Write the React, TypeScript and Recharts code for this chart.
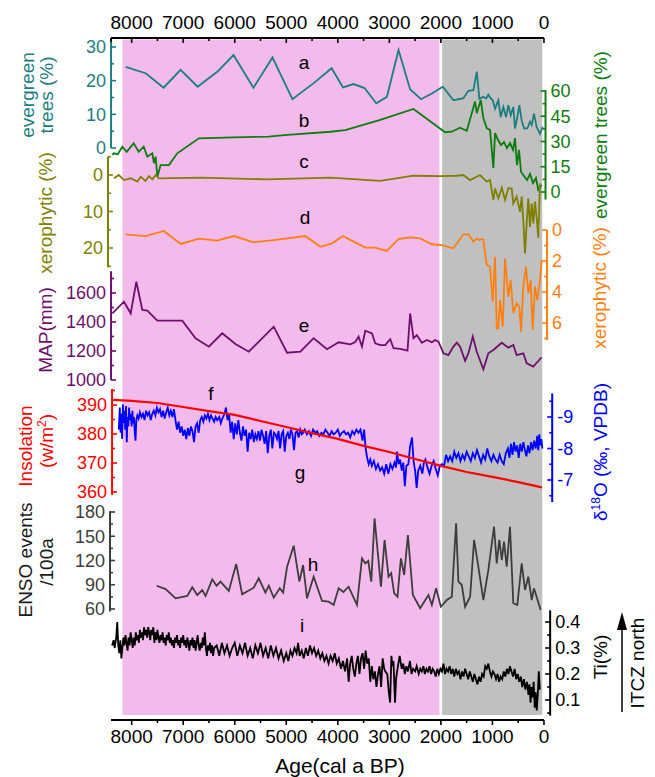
import React from "react";
import { ComposedChart, Line, XAxis, YAxis, ReferenceArea, ReferenceLine } from "recharts";

type Pt = [number, number];

// age axis (cal a BP)
const ageTicks = [8000, 7500, 7000, 6500, 6000, 5500, 5000, 4500, 4000, 3500, 3000, 2500, 2000, 1500, 1000, 500, 0];

// a: evergreen trees (%)
const evergreenA: Pt[] = [
  [8116, 24.1], [7729, 22.2], [7380, 17.9], [7051, 23.2], [6721, 18.2], [6334, 22.7], [6024, 27.6],
  [5637, 17.9], [5268, 26.9], [4881, 14.5], [4475, 19.2], [4120, 23.7], [3900, 18.0], [3694, 19.0],
  [3481, 17.8], [3254, 13.3], [3047, 15.2], [2822, 29.1], [2596, 17.4], [2383, 14.5], [2175, 16.2],
  [1962, 18.2], [1757, 14.2], [1563, 14.8], [1466, 17.0], [1369, 17.2], [1303, 22.7], [1253, 14.6],
  [1176, 15.2], [1123, 14.7], [1079, 15.8], [1032, 14.7], [994, 14.2], [949, 11.7], [885, 14.2],
  [839, 9.2], [788, 12.2], [736, 9.2], [691, 12.7], [645, 9.7], [595, 12.2], [562, 5.8], [517, 9.2],
  [478, 12.7], [432, 8.2], [387, 5.8], [323, 5.8], [271, 7.8], [238, 6.8], [194, 10.2], [141, 6.2],
  [77, 4.2], [25, 6.3],
];

// b: evergreen trees (%), second record
const evergreenB: Pt[] = [
  [8374, 22.0], [8349, 23.0], [8271, 22.5], [8180, 26.9], [8097, 23.8], [7961, 28.9], [7864, 23.9],
  [7767, 26.9], [7696, 21.0], [7599, 23.0], [7568, 17.1], [7535, 21.0], [7502, 9.1], [7438, 16.0],
  [7277, 16.0], [7115, 23.0], [6696, 31.9], [6024, 32.5], [5346, 32.9], [4978, 33.9], [4145, 35.8],
  [3855, 36.8], [3177, 42.8], [2532, 49.3], [1918, 35.5], [1788, 35.8], [1627, 38.2], [1497, 36.4],
  [1337, 53.7], [1304, 46.8], [1226, 54.7], [1176, 44.0], [1110, 38.0], [1046, 36.8], [982, 14.3],
  [949, 35.0], [891, 30.9], [833, 27.9], [775, 29.7], [717, 26.1], [659, 29.1], [600, 25.0],
  [562, 32.0], [523, 16.0], [484, 25.0], [445, 11.9], [387, 9.5], [329, 7.1], [271, 10.7],
  [213, 5.3], [155, 8.3], [110, 1.2], [45, 4.2],
];

// c: xerophytic (%)
const xerophyticC: Pt[] = [
  [8342, 0.9], [8251, 0.0], [8149, 1.4], [8019, 0.9], [7890, 1.8], [7825, 0.5], [7729, 1.6],
  [7664, 0.3], [7599, 1.2], [7535, 0.0], [7471, 0.9], [6663, 0.7], [5371, 1.2], [4145, 0.7],
  [3177, 1.6], [2532, 0.2], [2014, 0.3], [1691, 0.2], [1563, 0.0], [1433, 1.4], [1240, 0.0],
  [1176, 0.9], [1110, 1.8], [1046, 1.4], [982, 6.8], [949, 3.7], [885, 6.4], [819, 3.5], [755, 6.8],
  [691, 3.6], [626, 3.7], [595, 7.8], [529, 5.9], [465, 10.1], [432, 5.9], [401, 12.3], [368, 21.5],
  [335, 13.2], [304, 6.4], [271, 14.2], [238, 7.8], [207, 13.3], [174, 7.3], [141, 11.9],
  [110, 17.2], [77, 2.3],
];

// d: xerophytic (%), second record
const xerophyticD: Pt[] = [
  [8116, 0.28], [7729, 0.39], [7374, 0.06], [7051, 0.9], [6696, 0.56], [6340, 0.69], [6018, 0.39],
  [5631, 0.79], [5243, 0.65], [4629, 0.39], [4339, 1.08], [4112, 0.86], [3899, 0.39], [3694, 0.75],
  [3467, 1.14], [3274, 1.14], [3047, 1.35], [2822, 0.58], [2596, 0.47], [2402, 0.54], [2175, 0.92],
  [1982, 0.97], [1757, 1.18], [1563, 0.28], [1466, 0.28], [1369, 0.75], [1304, 0.54], [1253, 0.65],
  [1207, 0.58], [1176, 0.65], [1110, 2.26], [1046, 2.37], [994, 4.63], [949, 1.72], [916, 6.35],
  [885, 6.35], [852, 4.52], [800, 6.24], [755, 1.83], [691, 4.31], [645, 3.23], [595, 5.37],
  [529, 4.73], [478, 4.95], [445, 6.56], [401, 3.66], [349, 2.37], [304, 4.08], [258, 3.23],
  [219, 6.45], [174, 3.66], [130, 4.52], [77, 3.23], [45, 1.94],
];

// e: MAP (mm)
const mapE: Pt[] = [
  [8374, 1460], [8149, 1540], [8019, 1460], [7909, 1678], [7793, 1483], [7696, 1478], [7502, 1409],
  [7018, 1409], [6760, 1288], [6502, 1230], [6243, 1322], [5986, 1248], [5728, 1195], [5243, 1368],
  [4985, 1188], [4726, 1195], [4469, 1288], [4209, 1212], [3984, 1260], [3758, 1246], [3661, 1262],
  [3597, 1299], [3531, 1230], [3467, 1340], [3337, 1322], [3274, 1253], [3177, 1241], [3080, 1241],
  [2983, 1281], [2919, 1219], [2789, 1214], [2648, 1202], [2596, 1460], [2532, 1288], [2466, 1310],
  [2369, 1257], [2272, 1276], [2175, 1260], [2111, 1276], [2047, 1264], [1950, 1184], [1854, 1172],
  [1757, 1230], [1691, 1257], [1627, 1230], [1530, 1133], [1466, 1184], [1381, 1299], [1304, 1195],
  [1176, 1074], [1079, 1184], [982, 1207], [819, 1257], [691, 1223], [595, 1241], [529, 1172],
  [401, 1184], [335, 1115], [207, 1092], [141, 1119], [45, 1157],
];

// f: insolation (W/m2)
const insolationF: Pt[] = [
  [8360, 391.8], [8000, 391.4], [7500, 390.7], [7000, 389.3], [6500, 387.9], [6000, 386.6],
  [5500, 384.5], [5000, 382.4], [4500, 380.3], [4000, 378.3], [3500, 375.9], [3000, 373.8],
  [2500, 371.4], [2000, 369.0], [1500, 366.9], [1000, 365.2], [500, 363.4], [40, 361.6],
];

// g: d18O (permil, VPDB)
const d18oG: Pt[] = [
  [8250, -8.6], [8230, -9.3], [8215, -8.5], [8200, -9.1], [8185, -8.3], [8170, -9.4], [8155, -8.8],
  [8140, -9.2], [8125, -8.6], [8110, -9.35], [8095, -8.2], [8080, -9.0], [8065, -8.7], [8050, -9.3],
  [8035, -8.9], [8020, -9.1], [8000, -8.7], [7985, -9.2], [7970, -8.8], [7955, -9.0], [7940, -8.5],
  [7925, -8.25], [7910, -8.9], [7890, -9.05], [7865, -8.95], [7840, -9.15], [7810, -9.0], [7780, -9.1],
  [7750, -8.9], [7720, -9.2], [7690, -9.05], [7660, -9.15], [7630, -8.9], [7600, -9.1], [7570, -9.2],
  [7540, -9.05], [7510, -9.3], [7480, -9.15], [7450, -9.25], [7420, -9.0], [7390, -9.2], [7360, -8.95],
  [7330, -9.15], [7300, -9.3], [7270, -9.05], [7240, -9.2], [7210, -9.0], [7180, -9.25], [7150, -8.9],
  [7120, -8.6], [7090, -8.85], [7060, -8.5], [7030, -8.7], [7000, -8.4], [6970, -8.6], [6940, -8.3],
  [6910, -8.65], [6880, -8.4], [6850, -8.7], [6820, -8.55], [6790, -8.2], [6760, -8.7], [6730, -8.8],
  [6700, -8.5], [6670, -8.9], [6640, -9.0], [6610, -8.85], [6580, -9.05], [6550, -8.95], [6520, -9.1],
  [6490, -8.9], [6460, -9.05], [6430, -8.95], [6400, -8.85], [6370, -9.0], [6340, -8.9], [6300, -9.0],
  [6270, -8.8], [6240, -8.95], [6200, -9.1], [6170, -9.3], [6140, -8.9], [6110, -9.1], [6080, -8.5],
  [6050, -8.85], [6020, -8.3], [5990, -8.8], [5960, -8.45], [5930, -8.9], [5900, -8.5], [5870, -8.25],
  [5840, -8.7], [5810, -8.4], [5780, -8.6], [5750, -7.9], [5720, -8.5], [5690, -8.3], [5660, -8.6],
  [5630, -8.2], [5600, -8.45], [5570, -8.3], [5540, -8.55], [5510, -8.25], [5480, -8.6], [5450, -8.4],
  [5420, -8.15], [5390, -8.55], [5360, -7.85], [5330, -8.4], [5300, -8.6], [5270, -8.0], [5240, -8.5],
  [5210, -8.45], [5180, -8.3], [5150, -8.55], [5120, -8.0], [5090, -8.45], [5060, -8.55], [5030, -7.9],
  [5000, -8.4], [4970, -8.5], [4940, -8.3], [4910, -8.6], [4880, -8.45], [4850, -7.95], [4820, -8.5],
  [4790, -8.55], [4760, -8.35], [4730, -8.6], [4700, -8.45], [4670, -8.5], [4640, -8.6], [4600, -8.45],
  [4560, -8.55], [4520, -8.4], [4480, -8.6], [4440, -8.5], [4400, -8.55], [4360, -8.4], [4320, -8.5],
  [4280, -8.45], [4240, -8.6], [4200, -8.5], [4160, -8.4], [4120, -8.55], [4080, -8.45], [4040, -8.5],
  [4000, -8.6], [3960, -8.4], [3920, -8.5], [3880, -8.55], [3840, -8.45], [3800, -8.5], [3760, -8.35],
  [3720, -8.55], [3680, -8.45], [3640, -8.6], [3600, -8.5], [3560, -8.6], [3520, -8.25], [3490, -8.6],
  [3460, -8.0], [3430, -7.7], [3400, -7.5], [3370, -7.65], [3340, -7.45], [3300, -7.6], [3260, -7.35],
  [3220, -7.5], [3180, -7.3], [3140, -7.4], [3100, -7.2], [3060, -7.5], [3020, -7.2], [2980, -7.5],
  [2940, -7.35], [2900, -7.55], [2870, -7.4], [2850, -7.9], [2820, -7.5], [2790, -7.65], [2760, -7.3],
  [2730, -7.55], [2700, -6.8], [2670, -7.45], [2630, -7.5], [2600, -8.05], [2560, -8.35], [2530, -7.6],
  [2500, -7.3], [2470, -6.75], [2440, -7.3], [2400, -7.45], [2360, -7.2], [2330, -7.55], [2300, -7.65],
  [2260, -7.4], [2220, -7.2], [2180, -7.45], [2140, -7.6], [2100, -7.35], [2060, -7.15], [2020, -7.45],
  [1980, -7.5], [1940, -7.45], [1900, -7.8], [1860, -7.6], [1820, -7.75], [1780, -7.6], [1740, -7.9],
  [1700, -7.7], [1660, -7.85], [1620, -7.6], [1580, -7.8], [1540, -7.65], [1500, -7.9], [1460, -7.75],
  [1420, -7.6], [1380, -7.85], [1340, -7.7], [1300, -7.95], [1260, -7.75], [1220, -7.55], [1180, -7.8],
  [1140, -7.65], [1100, -8.0], [1060, -7.75], [1020, -7.6], [980, -7.8], [940, -7.65], [900, -7.55],
  [860, -7.8], [820, -7.6], [780, -7.5], [740, -7.85], [700, -8.0], [670, -7.7], [640, -8.15],
  [610, -7.8], [580, -8.2], [550, -7.9], [520, -8.1], [490, -7.7], [460, -8.15], [430, -7.9],
  [400, -8.2], [370, -7.95], [340, -7.75], [310, -8.1], [280, -7.85], [250, -8.2], [220, -7.95],
  [190, -8.25], [160, -8.0], [130, -8.4], [110, -7.95], [90, -8.45], [70, -8.1], [50, -8.3], [30, -8.0],
];

// h: ENSO events / 100a
const ensoH: Pt[] = [
  [7516, 88.8], [7341, 84.7], [7148, 73.2], [6921, 76.1], [6824, 86.8], [6727, 77.3], [6631, 83.5],
  [6566, 76.1], [6437, 96.7], [6353, 88.8], [6276, 93.8], [6115, 82.3], [5972, 115.7], [5856, 78.2],
  [5631, 86.4], [5534, 98.0], [5404, 80.2], [5340, 88.8], [5243, 74.0], [5127, 85.6], [5061, 80.2],
  [4984, 112.3], [4856, 138.3], [4746, 93.8], [4674, 114.4], [4597, 73.2], [4469, 100.0], [4306, 69.9],
  [4178, 69.0], [4081, 65.0], [3984, 85.6], [3893, 81.0], [3791, 87.6], [3628, 65.0], [3531, 122.7],
  [3467, 116.5], [3409, 119.4], [3351, 93.8], [3287, 172.2], [3163, 87.6], [3093, 145.4], [3016, 100.0],
  [2964, 104.2], [2906, 79.4], [2842, 75.2], [2776, 122.7], [2712, 102.1], [2640, 151.5], [2543, 77.3],
  [2402, 60.9], [2241, 77.3], [2175, 65.0], [2092, 85.6], [2001, 62.8], [1885, 71.1], [1788, 75.2],
  [1705, 166.0], [1660, 93.8], [1594, 89.7], [1530, 62.8], [1433, 75.2], [1356, 145.4], [1273, 112.3],
  [1176, 71.1], [1079, 108.2], [969, 161.8], [916, 116.5], [866, 145.4], [819, 120.6], [775, 143.3],
  [723, 112.3], [659, 161.8], [595, 67.1], [517, 65.0], [432, 116.5], [368, 83.5], [304, 100.0],
  [238, 71.1], [194, 85.6], [64, 58.8],
];

// i: Ti (%)
const tiI: Pt[] = [
  [8380, 0.31], [8350, 0.33], [8330, 0.3], [8300, 0.34], [8280, 0.4], [8260, 0.31], [8240, 0.28],
  [8220, 0.33], [8200, 0.26], [8180, 0.3], [8160, 0.34], [8140, 0.31], [8120, 0.35], [8100, 0.32],
  [8080, 0.29], [8060, 0.34], [8040, 0.31], [8020, 0.36], [8000, 0.33], [7980, 0.3], [7960, 0.34],
  [7940, 0.31], [7920, 0.36], [7900, 0.33], [7880, 0.35], [7860, 0.32], [7840, 0.37], [7820, 0.34],
  [7800, 0.36], [7780, 0.33], [7760, 0.38], [7740, 0.35], [7720, 0.37], [7700, 0.34], [7680, 0.38],
  [7660, 0.36], [7640, 0.33], [7620, 0.37], [7600, 0.35], [7580, 0.38], [7560, 0.32], [7540, 0.36],
  [7520, 0.33], [7500, 0.37], [7480, 0.34], [7460, 0.32], [7440, 0.35], [7420, 0.33], [7400, 0.36],
  [7380, 0.32], [7360, 0.34], [7340, 0.31], [7320, 0.35], [7300, 0.33], [7280, 0.36], [7260, 0.32],
  [7240, 0.34], [7220, 0.31], [7200, 0.33], [7180, 0.3], [7160, 0.34], [7140, 0.32], [7120, 0.35],
  [7100, 0.31], [7080, 0.33], [7060, 0.3], [7040, 0.34], [7020, 0.32], [7000, 0.35], [6980, 0.31],
  [6960, 0.33], [6940, 0.3], [6920, 0.34], [6900, 0.32], [6880, 0.29], [6860, 0.33], [6840, 0.31],
  [6820, 0.34], [6800, 0.3], [6780, 0.33], [6760, 0.29], [6740, 0.32], [6720, 0.35], [6700, 0.31],
  [6680, 0.29], [6660, 0.32], [6640, 0.3], [6620, 0.34], [6600, 0.31], [6580, 0.36], [6560, 0.3],
  [6540, 0.27], [6520, 0.31], [6500, 0.29], [6480, 0.32], [6460, 0.28], [6440, 0.31], [6420, 0.27],
  [6400, 0.3], [6350, 0.31], [6300, 0.27], [6250, 0.32], [6200, 0.28], [6150, 0.31], [6100, 0.27],
  [6050, 0.3], [6000, 0.32], [5950, 0.27], [5900, 0.31], [5850, 0.28], [5800, 0.32], [5750, 0.27],
  [5700, 0.3], [5650, 0.26], [5600, 0.31], [5550, 0.28], [5500, 0.32], [5450, 0.27], [5400, 0.3],
  [5350, 0.26], [5300, 0.31], [5250, 0.27], [5200, 0.3], [5150, 0.26], [5100, 0.29], [5050, 0.25],
  [5000, 0.28], [4960, 0.25], [4920, 0.29], [4880, 0.27], [4840, 0.3], [4800, 0.28], [4770, 0.32],
  [4740, 0.27], [4700, 0.29], [4660, 0.26], [4620, 0.3], [4580, 0.27], [4540, 0.31], [4500, 0.28],
  [4460, 0.3], [4420, 0.27], [4380, 0.29], [4340, 0.26], [4300, 0.28], [4260, 0.25], [4220, 0.27],
  [4180, 0.24], [4140, 0.27], [4100, 0.25], [4060, 0.28], [4020, 0.24], [3980, 0.26], [3940, 0.22],
  [3900, 0.25], [3860, 0.21], [3820, 0.26], [3790, 0.17], [3760, 0.24], [3730, 0.27], [3700, 0.22],
  [3670, 0.19], [3640, 0.24], [3610, 0.27], [3580, 0.2], [3550, 0.26], [3520, 0.28], [3490, 0.22],
  [3460, 0.29], [3430, 0.24], [3400, 0.26], [3370, 0.17], [3340, 0.23], [3310, 0.18], [3280, 0.21],
  [3250, 0.15], [3220, 0.2], [3190, 0.23], [3160, 0.15], [3130, 0.26], [3100, 0.22], [3080, 0.21],
  [3040, 0.2], [3010, 0.13], [2985, 0.09], [2960, 0.27], [2940, 0.23], [2920, 0.25], [2890, 0.09],
  [2870, 0.18], [2850, 0.21], [2800, 0.27], [2760, 0.22], [2730, 0.24], [2700, 0.2], [2670, 0.23],
  [2640, 0.21], [2600, 0.25], [2570, 0.2], [2540, 0.22], [2500, 0.21], [2470, 0.23], [2430, 0.2],
  [2400, 0.22], [2370, 0.21], [2340, 0.23], [2310, 0.2], [2280, 0.22], [2250, 0.21], [2220, 0.23],
  [2190, 0.2], [2160, 0.22], [2130, 0.21], [2100, 0.19], [2070, 0.22], [2040, 0.2], [2010, 0.22],
  [1980, 0.21], [1950, 0.24], [1920, 0.2], [1890, 0.22], [1860, 0.21], [1830, 0.23], [1800, 0.2],
  [1770, 0.22], [1740, 0.19], [1710, 0.22], [1680, 0.2], [1650, 0.21], [1620, 0.18], [1590, 0.21],
  [1560, 0.19], [1530, 0.22], [1500, 0.2], [1470, 0.18], [1440, 0.21], [1410, 0.19], [1380, 0.17],
  [1350, 0.2], [1320, 0.18], [1290, 0.16], [1260, 0.19], [1230, 0.17], [1200, 0.2], [1170, 0.19],
  [1140, 0.23], [1110, 0.22], [1080, 0.24], [1050, 0.21], [1020, 0.19], [990, 0.21], [960, 0.2],
  [930, 0.18], [900, 0.2], [870, 0.17], [840, 0.19], [810, 0.18], [780, 0.21], [750, 0.19],
  [720, 0.22], [690, 0.2], [660, 0.23], [630, 0.21], [600, 0.19], [570, 0.22], [540, 0.18],
  [510, 0.2], [480, 0.17], [450, 0.19], [420, 0.15], [390, 0.18], [360, 0.14], [330, 0.17],
  [300, 0.12], [280, 0.16], [260, 0.09], [240, 0.15], [220, 0.11], [200, 0.17], [180, 0.07],
  [160, 0.13], [140, 0.06], [120, 0.12], [100, 0.21], [80, 0.14],
];

const W = 655;
const H = 777;
const PLOT = { left: 111, right: 544, top: 38, bottom: 720 };
const AGE_MAX = 8400;
const PX_PER_YEAR = (PLOT.right - PLOT.left) / AGE_MAX;
const FONT = "'Liberation Sans', Arial, sans-serif";
const AXIS_W = 0.01; // axes need some width or recharts skips drawing them

type AxisCfg = {
  id: string;
  side: "left" | "right";
  color: string;
  cal: [number, number, number, number]; // value, pixel, value, pixel
  majors: number[];
  minors: number[];
  spine: [number, number];
  spineAge: number;
  data: Pt[];
};

const axes: AxisCfg[] = [
  { id: "a", side: "left", color: "#1d7d80", cal: [0, 148, 30, 47], majors: [0, 10, 20, 30], minors: [5, 15, 25], spine: [0, 31.5], spineAge: 8400, data: evergreenA },
  { id: "b", side: "right", color: "#0e7c0e", cal: [0, 192, 60, 91], majors: [0, 15, 30, 45, 60], minors: [7.5, 22.5, 37.5, 52.5], spine: [-4.5, 60.5], spineAge: -30, data: evergreenB },
  { id: "c", side: "left", color: "#7f7f00", cal: [0, 175, 20, 248], majors: [0, 10, 20], minors: [-5, 5, 15, 25], spine: [-5, 25.3], spineAge: 8460, data: xerophyticC },
  { id: "d", side: "right", color: "#ff7f0f", cal: [0, 230, 6, 323], majors: [0, 2, 4, 6], minors: [1, 3, 5, 7], spine: [0, 7.1], spineAge: -60, data: xerophyticD },
  { id: "e", side: "left", color: "#6d0f6d", cal: [1000, 380, 1600, 293], majors: [1000, 1200, 1400, 1600], minors: [1100, 1300, 1500, 1700], spine: [1000, 1750], spineAge: 8400, data: mapE },
  { id: "g", side: "right", color: "#0000ff", cal: [-9, 417, -7, 480], majors: [-9, -8, -7], minors: [-9.5, -8.5, -7.5, -6.5], spine: [-9.75, -6.3], spineAge: -160, data: d18oG },
  { id: "f", side: "left", color: "#ff0000", cal: [360, 492, 390, 405], majors: [360, 370, 380, 390], minors: [365, 375, 385, 395], spine: [359, 395.5], spineAge: 8380, data: insolationF },
  { id: "h", side: "left", color: "#3d3d3d", cal: [60, 609, 180, 512], majors: [60, 90, 120, 150, 180], minors: [75, 105, 135, 165], spine: [57, 181], spineAge: 8420, data: ensoH },
  { id: "i", side: "right", color: "#000000", cal: [0.1, 700, 0.4, 622], majors: [0.1, 0.2, 0.3, 0.4], minors: [0.05, 0.15, 0.25, 0.35], spine: [0.04, 0.445], spineAge: -120, data: tiI },
];

// every panel shares the full plot height; stretch its domain so its ticks land in its own band
function axisDomain(cal: [number, number, number, number]) {
  const [v1, p1, v2, p2] = cal;
  const k = (p2 - p1) / (v2 - v1);
  const top = v1 + (PLOT.top - p1) / k;
  const bot = v1 + (PLOT.bottom - p1) / k;
  return bot < top ? { domain: [bot, top], reversed: false } : { domain: [top, bot], reversed: true };
}

const YTick = (props: any) => {
  const { y, payload, ax } = props;
  const major = ax.majors.includes(payload.value);
  const inward = ax.side === "left" ? 1 : -1;
  const edgeX = ax.side === "left" ? PLOT.left : PLOT.right;
  const edgeAge = ax.side === "left" ? AGE_MAX : 0;
  const sx = edgeX + (edgeAge - ax.spineAge) * PX_PER_YEAR;
  const len = major ? 5 : 3;
  return (
    <g>
      <line x1={sx} x2={sx + inward * len} y1={y} y2={y} stroke={ax.color} strokeWidth={1.6} />
      {major && (
        <text
          x={sx - inward * 5}
          y={y}
          dy="0.36em"
          textAnchor={ax.side === "left" ? "end" : "start"}
          fill={ax.color}
          fontSize={18}
          fontFamily={FONT}
        >
          {payload.value}
        </text>
      )}
    </g>
  );
};

const XTick = (props: any) => {
  const { x, y, payload, side } = props;
  const major = payload.value % 1000 === 0;
  const len = major ? 5 : 3;
  return (
    <g>
      <line x1={x} x2={x} y1={y} y2={y + len} stroke="#000" strokeWidth={1.6} />
      {major && (
        <text x={x} y={side === "top" ? y - 16 : y + 16} dy="0.36em" textAnchor="middle" fill="#000" fontSize={19} fontFamily={FONT}>
          {payload.value}
        </text>
      )}
    </g>
  );
};

const rows = (pts: Pt[]) => pts.map(([age, v]) => ({ age, v }));

const vtext = (x: number, y: number, color: string, body: React.ReactNode, size = 19) => (
  <text
    x={x}
    y={y}
    transform={`rotate(-90 ${x} ${y})`}
    textAnchor="middle"
    dy="0.36em"
    fill={color}
    fontSize={size}
    fontFamily={FONT}
  >
    {body}
  </text>
);

const letters: [string, number, number][] = [
  ["a", 304, 62], ["b", 304, 120], ["c", 304, 161], ["d", 305, 217], ["e", 304, 325],
  ["f", 211, 393], ["g", 300, 472], ["h", 313, 564], ["i", 302, 625],
];

export default function App() {
  return (
    <div style={{ position: "absolute", left: 0, top: 0, width: W, height: H, background: "#fff" }}>
      <ComposedChart
        width={W}
        height={H}
        margin={{ top: PLOT.top - 30, right: W - PLOT.right, bottom: H - PLOT.bottom - 30, left: PLOT.left }}
      >
        <XAxis
          xAxisId="bottom"
          type="number"
          dataKey="age"
          domain={[0, AGE_MAX]}
          reversed
          allowDataOverflow
          ticks={ageTicks}
          interval={0}
          height={30}
          tickSize={0}
          tickMargin={0}
          tickLine={false}
          axisLine={{ stroke: "#000", strokeWidth: 2 }}
          tick={(p: any) => <XTick {...p} side="bottom" />}
        />
        <XAxis
          xAxisId="top"
          orientation="top"
          type="number"
          dataKey="age"
          domain={[0, AGE_MAX]}
          reversed
          allowDataOverflow
          ticks={ageTicks}
          interval={0}
          height={30}
          tickSize={0}
          tickMargin={0}
          tickLine={false}
          axisLine={{ stroke: "#000", strokeWidth: 2 }}
          tick={(p: any) => <XTick {...p} side="top" />}
        />
        {axes.map((ax) => {
          const { domain, reversed } = axisDomain(ax.cal);
          return (
            <YAxis
              key={ax.id}
              yAxisId={ax.id}
              orientation={ax.side}
              type="number"
              domain={domain}
              reversed={reversed}
              allowDataOverflow
              width={AXIS_W}
              ticks={[...ax.majors, ...ax.minors]}
              interval={0}
              tickSize={0}
              tickMargin={0}
              tickLine={false}
              axisLine={false}
              tick={(p: any) => <YTick {...p} ax={ax} />}
            />
          );
        })}
        <ReferenceArea xAxisId="bottom" yAxisId="i" x1={8180} x2={2028} y1={0.042} y2={2.64} fill="#f3bbeb" fillOpacity={1} stroke="none" ifOverflow="visible" />
        <ReferenceArea xAxisId="bottom" yAxisId="i" x1={1976} x2={33} y1={0.042} y2={2.64} fill="#c0c0c0" fillOpacity={1} stroke="none" ifOverflow="visible" />
        {axes.map((ax) => (
          <Line
            key={"line-" + ax.id}
            data={rows(ax.data)}
            dataKey="v"
            xAxisId="bottom"
            yAxisId={ax.id}
            type="linear"
            stroke={ax.color}
            strokeWidth={ax.id === "f" ? 2.2 : 1.8}
            dot={false}
            isAnimationActive={false}
          />
        ))}
        {axes.map((ax) => (
          <ReferenceLine
            key={"spine-" + ax.id}
            xAxisId="bottom"
            yAxisId={ax.id}
            segment={[{ x: ax.spineAge, y: ax.spine[0] }, { x: ax.spineAge, y: ax.spine[1] }]}
            stroke={ax.color}
            strokeWidth={2}
            ifOverflow="visible"
          />
        ))}
        {/* short black frame piece at the top-left corner */}
        <ReferenceLine
          xAxisId="bottom"
          yAxisId="a"
          segment={[{ x: AGE_MAX, y: 31.5 }, { x: AGE_MAX, y: 32.7 }]}
          stroke="#000"
          strokeWidth={2}
          ifOverflow="visible"
        />
      </ComposedChart>
      <svg width={W} height={H} style={{ position: "absolute", left: 0, top: 0, pointerEvents: "none" }}>
        {vtext(27, 95, "#1d7d80", "evergreen")}
        {vtext(46, 95, "#1d7d80", "trees (%)")}
        {vtext(45, 213, "#7f7f00", "xerophytic (%)")}
        {vtext(45, 330, "#6d0f6d", "MAP(mm)")}
        {vtext(25, 446, "#ff0000", "Insolation")}
        {vtext(46, 441, "#ff0000", <>(w/m<tspan dy={-7} fontSize={12}>2</tspan><tspan dy={7}>)</tspan></>)}
        {vtext(25, 560, "#1a1a1a", "ENSO events")}
        {vtext(46, 562, "#1a1a1a", "/100a")}
        {vtext(600, 135, "#0e7c0e", "evergreen trees (%)")}
        {vtext(599, 288, "#ff7f0f", "xerophytic (%)")}
        {vtext(600, 452, "#0000ff", <>δ<tspan dy={-7} fontSize={12}>18</tspan><tspan dy={7}>O (‰, VPDB)</tspan></>)}
        {vtext(600, 657, "#000", "Ti(%)")}
        {vtext(637, 663, "#000", "ITCZ north")}
        <line x1={622} y1={712} x2={622} y2={628} stroke="#000" strokeWidth={1.5} />
        <polygon points="622,612 617,630 627,630" fill="#000" />
        {letters.map(([t, x, y]) => (
          <text key={t} x={x} y={y} dy="0.36em" textAnchor="middle" fontSize={19} fontFamily={FONT} fill="#000">
            {t}
          </text>
        ))}
        <text x={340} y={765} dy="0.36em" textAnchor="middle" fontSize={21} fontFamily={FONT} fill="#000">
          Age(cal a BP)
        </text>
      </svg>
    </div>
  );
}
